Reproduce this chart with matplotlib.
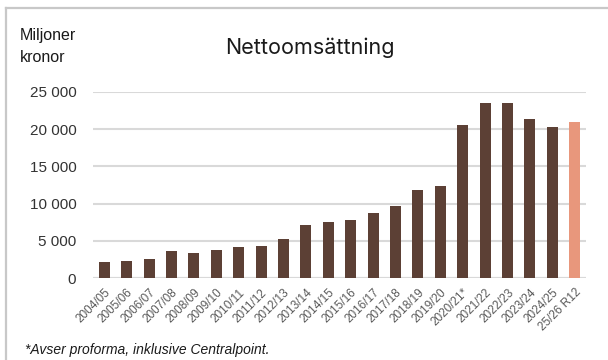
import matplotlib
matplotlib.use("Agg")
import matplotlib.pyplot as plt
from matplotlib.lines import Line2D

categories = ["2004/05", "2005/06", "2006/07", "2007/08", "2008/09", "2009/10",
              "2010/11", "2011/12", "2012/13", "2013/14", "2014/15", "2015/16",
              "2016/17", "2017/18", "2018/19", "2019/20", "2020/21*", "2021/22",
              "2022/23", "2023/24", "2024/25", "25/26 R12"]
values = [2150, 2300, 2600, 3650, 3350, 3800, 4150, 4330, 5230, 7100, 7500, 7800,
          8700, 9730, 11850, 12370, 20600, 23450, 23450, 21350, 20300, 21000]
colors = ["#5c4035"] * 21 + ["#e8977c"]
yticks = [0, 5000, 10000, 15000, 20000, 25000]
ytick_labels = ["0", "5 000", "10 000", "15 000", "20 000", "25 000"]

plt.rcParams['font.family'] = ['Liberation Sans', 'DejaVu Sans']

fig = plt.figure(figsize=(6.08, 3.6), dpi=100)
ax = fig.add_axes([93/608, 1 - 278.3/360, (586 - 93)/608, (278.3 - 91.7)/360])

x = list(range(len(categories)))
ax.bar(x, values, width=0.49, color=colors, zorder=3)
ax.set_xlim(-0.5, len(categories) - 0.5)
ax.set_ylim(0, 25000)
ax.set_yticks(yticks)
ax.set_yticklabels(ytick_labels, fontsize=11, color="#333333")
ax.yaxis.grid(True, color="#d9d9d9", linewidth=1.5, zorder=0)
ax.set_xticks(x)
ax.set_xticklabels(categories, rotation=45, ha="right", va="top",
                   rotation_mode="anchor", fontsize=8.5, color="#595959")
ax.tick_params(axis="both", length=0)
ax.tick_params(axis="y", pad=12)
ax.tick_params(axis="x", pad=6)
for s in ax.spines.values():
    s.set_visible(False)
ax.axhline(0, color="#d9d9d9", linewidth=1.5, zorder=2)

# Frame (left and top only)
fig.add_artist(Line2D([5.5/608, 5.5/608], [0, 1 - 8/360], transform=fig.transFigure,
                      color="#c8c8c8", linewidth=1.6))
fig.add_artist(Line2D([5.5/608, 1], [1 - 8/360, 1 - 8/360], transform=fig.transFigure,
                      color="#c8c8c8", linewidth=1.6))

fig.text(310/608, 1 - 48/360, "Nettoomsättning", fontsize=15.5, ha="center", va="center",
         color="#1a1a1a", family=["Inter", "DejaVu Sans"])
fig.text(20/608, 1 - 61.5/360, "Miljoner\nkronor", fontsize=11.5, ha="left", va="baseline",
         color="#1a1a1a", linespacing=1.55)
fig.text(25/608, 1 - 354/360, "*Avser proforma, inklusive Centralpoint.", fontsize=10,
         style="italic", ha="left", va="baseline", color="#1a1a1a")

fig.savefig("out.png", dpi=100)
